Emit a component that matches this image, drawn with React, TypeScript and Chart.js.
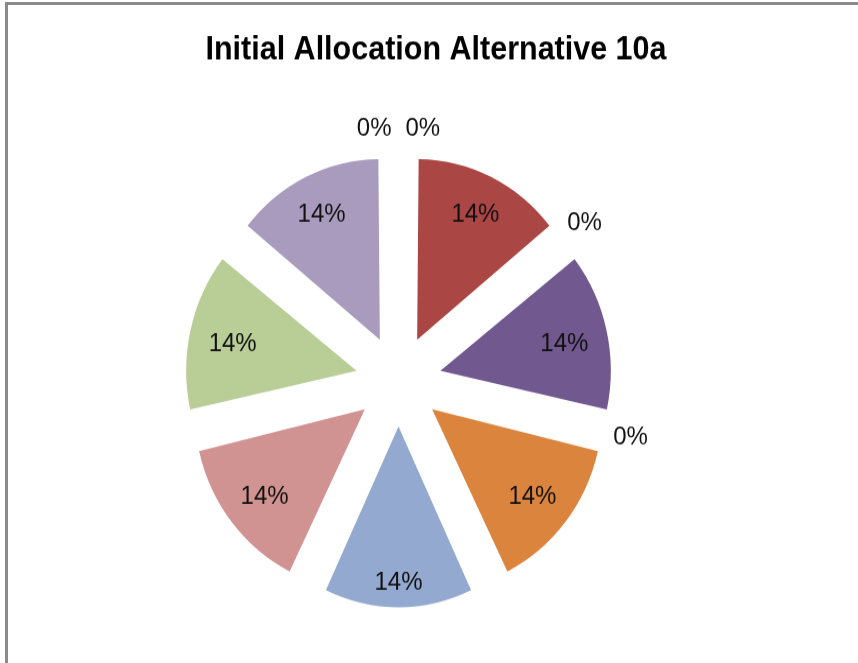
import React, { useEffect, useRef } from "react";
import { Chart, registerables } from "chart.js";

Chart.register(...registerables);

const TITLE = "Initial Allocation Alternative 10a";
const categories = [
  "Option 1", "Option 2", "Option 3", "Option 4", "Option 5", "Option 6",
  "Option 7", "Option 8", "Option 9", "Option 10", "Option 11",
];
const allocation = [0, 14.29, 0, 14.29, 0, 14.29, 14.29, 14.29, 14.29, 14.29, 0];
const sliceColors = [
  "#4572A7", "#AA4643", "#89A54E", "#71588F", "#4198AF", "#DB843D",
  "#93A9CF", "#D19392", "#B9CD96", "#A99BBD", "#80BCD0",
];

const CANVAS_W = 858;
const CANVAS_H = 625;
const SCALE_Y = 663 / CANVAS_H;

const titlePlugin = {
  id: "customTitle",
  afterDraw(chart: any) {
    const ctx = chart.ctx;
    ctx.save();
    ctx.font = "bold 30.5px 'Liberation Sans', Arial, sans-serif";
    ctx.fillStyle = "#000";
    ctx.textAlign = "center";
    ctx.textBaseline = "alphabetic";
    ctx.fillText(TITLE, 436, 56);
    ctx.restore();
  },
};

const labelPlugin = {
  id: "sliceLabels",
  afterDatasetsDraw(chart: any) {
    const ctx = chart.ctx;
    const meta = chart.getDatasetMeta(0);
    const data = chart.data.datasets[0].data as number[];
    const total = data.reduce((a, b) => a + b, 0);
    ctx.save();
    ctx.font = "24px 'Liberation Sans', Arial, sans-serif";
    ctx.fillStyle = "#111";
    ctx.textAlign = "center";
    ctx.textBaseline = "middle";
    meta.data.forEach((el: any, i: number) => {
      const p = el.getProps(["x", "y", "startAngle", "endAngle", "outerRadius", "circumference"], true);
      const text = Math.round((data[i] / total) * 100) + "%";
      const w = ctx.measureText(text).width;
      const h = 17;
      const mid = (p.startAngle + p.endAngle) / 2;
      const cos = Math.cos(mid);
      const sin = Math.sin(mid);
      const shift = (el.options.offset || 0) / 4;
      let x: number;
      let y: number;
      if (p.circumference > 0) {
        const fix = 1 - Math.sin(Math.min(Math.PI, p.circumference));
        const outer = p.outerRadius + shift * fix;
        const ext = Math.abs((w / 2) * cos) + Math.abs((h / 2) * sin);
        const dist = outer - 18 - ext;
        x = p.x + cos * (shift + dist);
        y = p.y + sin * (shift + dist) + 3;
      } else {
        const dist = 238;
        x = p.x + cos * dist;
        y = p.y + sin * dist;
        if (Math.abs(cos) < 0.05) {
          const a = mid + Math.PI / 2;
          x += (a < Math.PI ? 1 : -1) * (w / 2 + 7);
        }
      }
      ctx.fillText(text, x, y);
    });
    ctx.restore();
  },
};

export default function App() {
  const canvasRef = useRef<HTMLCanvasElement | null>(null);

  useEffect(() => {
    if (!canvasRef.current) return;
    const chart = new Chart(canvasRef.current, {
      type: "pie",
      data: {
        labels: categories,
        datasets: [
          {
            data: allocation,
            backgroundColor: sliceColors,
            borderWidth: 0,
            offset: 172,
            radius: 161,
          } as any,
        ],
      },
      options: {
        responsive: false,
        animation: false,
        devicePixelRatio: 1,
        layout: { padding: { left: 0, right: 61, top: 100, bottom: 7 } },
        plugins: {
          legend: { display: false },
          tooltip: { enabled: false },
          title: { display: false },
        },
      } as any,
      plugins: [labelPlugin, titlePlugin],
    });
    return () => chart.destroy();
  }, []);

  return (
    <div
      style={{
        position: "absolute",
        left: 0,
        top: 0,
        width: 858,
        height: 663,
        background: "#fff",
        overflow: "hidden",
      }}
    >
      <div
        style={{
          position: "absolute",
          left: 5,
          top: 2,
          right: -10,
          bottom: -10,
          borderLeft: "3px solid #8a8a8a",
          borderTop: "3px solid #8a8a8a",
        }}
      />
      <div
        style={{
          position: "absolute",
          left: 0,
          top: 0,
          transform: `scaleY(${SCALE_Y})`,
          transformOrigin: "0 0",
        }}
      >
        <canvas
          ref={canvasRef}
          width={CANVAS_W}
          height={CANVAS_H}
          style={{ width: CANVAS_W, height: CANVAS_H, display: "block" }}
        />
      </div>
    </div>
  );
}
